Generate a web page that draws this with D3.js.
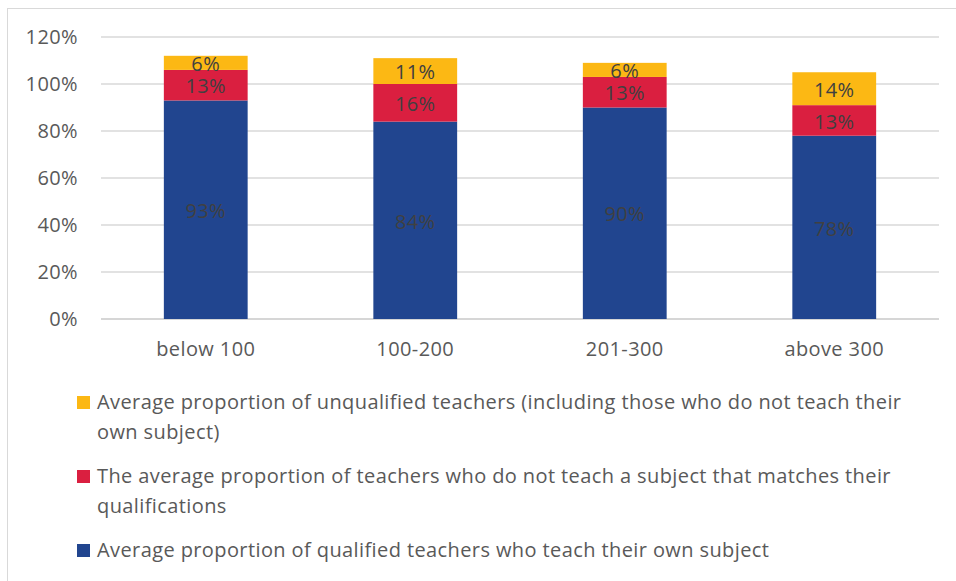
<!DOCTYPE html>
<html><head><meta charset="utf-8">
<script src="https://cdn.jsdelivr.net/npm/d3@7"></script>
<style>body{margin:0;background:#fff}svg{display:block}text{font-family:"Open Sans",sans-serif;letter-spacing:0.4px}</style>
</head><body><svg id="c" width="956" height="581"></svg>
<script>
const categories = ["below 100","100-200","201-300","above 300"];
const qualifiedOwn = [93,84,90,78];
const mismatched = [13,16,13,13];
const unqualified = [6,11,6,14];
const yTicks = [0,20,40,60,80,100,120];
const seriesNames = [
  "Average proportion of qualified teachers who teach their own subject",
  "The average proportion of teachers who do not teach a subject that matches their qualifications",
  "Average proportion of unqualified teachers (including those who do not teach their own subject)"
];
const colors = ["#21458f","#da1f40","#fcb814"];
const FS = 20;

const svg = d3.select("#c");
svg.append("rect").attr("x",7.5).attr("y",8.5).attr("width",1000).attr("height",700)
  .attr("fill","none").attr("stroke","#d9d9d9");

const x0=101,x1=939,yTop=37,yBot=319;
const x = d3.scaleBand().domain(categories).range([x0,x1]).paddingInner(0.6).paddingOuter(0.3);
const y = d3.scaleLinear().domain([0,120]).range([yBot,yTop]);

svg.append("g").selectAll("line").data(yTicks).join("line")
  .attr("x1",x0).attr("x2",x1).attr("y1",d=>y(d)).attr("y2",d=>y(d))
  .attr("stroke",d=>d===0?"#c8c8c8":"#d9d9d9").attr("stroke-width",1.3);

const yAxis = d3.axisLeft(y).tickValues(yTicks).tickFormat(d=>d+"%").tickSize(0).tickPadding(0);
const ya = svg.append("g").attr("transform","translate(78,0)").call(yAxis);
ya.select(".domain").remove();
ya.selectAll("text").attr("font-size",FS).attr("fill","#595959").attr("font-family","Open Sans");

const xAxis = d3.axisBottom(x).tickSize(0).tickPadding(0);
const xa = svg.append("g").attr("transform",`translate(0,${yBot+23})`).call(xAxis);
xa.select(".domain").remove();
xa.selectAll("text").attr("font-size",FS).attr("fill","#595959").attr("font-family","Open Sans").attr("dy","0.71em");

const data = categories.map((c,i)=>({cat:c,s0:qualifiedOwn[i],s1:mismatched[i],s2:unqualified[i]}));
const stack = d3.stack().keys(["s0","s1","s2"])(data);
stack.forEach((layer,li)=>{
  const lg = svg.append("g");
  lg.selectAll("rect").data(layer).join("rect")
    .attr("x",d=>x(d.data.cat)).attr("width",x.bandwidth())
    .attr("y",d=>y(d[1])).attr("height",d=>y(d[0])-y(d[1]))
    .attr("fill",colors[li]);
  lg.selectAll("text").data(layer).join("text")
    .attr("x",d=>x(d.data.cat)+x.bandwidth()/2)
    .attr("y",d=>(y(d[0])+y(d[1]))/2+1)
    .attr("dy","0.36em").attr("text-anchor","middle")
    .attr("font-size",FS).attr("fill","#404040")
    .text(d=>(d[1]-d[0])+"%");
});

const legendOrder=[2,1,0];
const lineH=30, wrapW=830;
let ly=402;
legendOrder.forEach(si=>{
  const t = svg.append("text").attr("x",97).attr("font-size",FS).attr("fill","#595959");
  const words = seriesNames[si].split(" ");
  let line=[], lines=[];
  const meas = svg.append("text").attr("font-size",FS).attr("visibility","hidden");
  words.forEach(w=>{
    line.push(w); meas.text(line.join(" "));
    if(meas.node().getComputedTextLength()>wrapW && line.length>1){line.pop();lines.push(line.join(" "));line=[w];}
  });
  lines.push(line.join(" ")); meas.remove();
  svg.append("rect").attr("x",77).attr("y",ly-6).attr("width",13).attr("height",13).attr("fill",colors[si]);
  lines.forEach((l,k)=>{
    t.append("tspan").attr("x",97).attr("y",ly+k*lineH).attr("dy","0.35em").text(l);
  });
  ly += lines.length*lineH + 14;
});
</script></body></html>
